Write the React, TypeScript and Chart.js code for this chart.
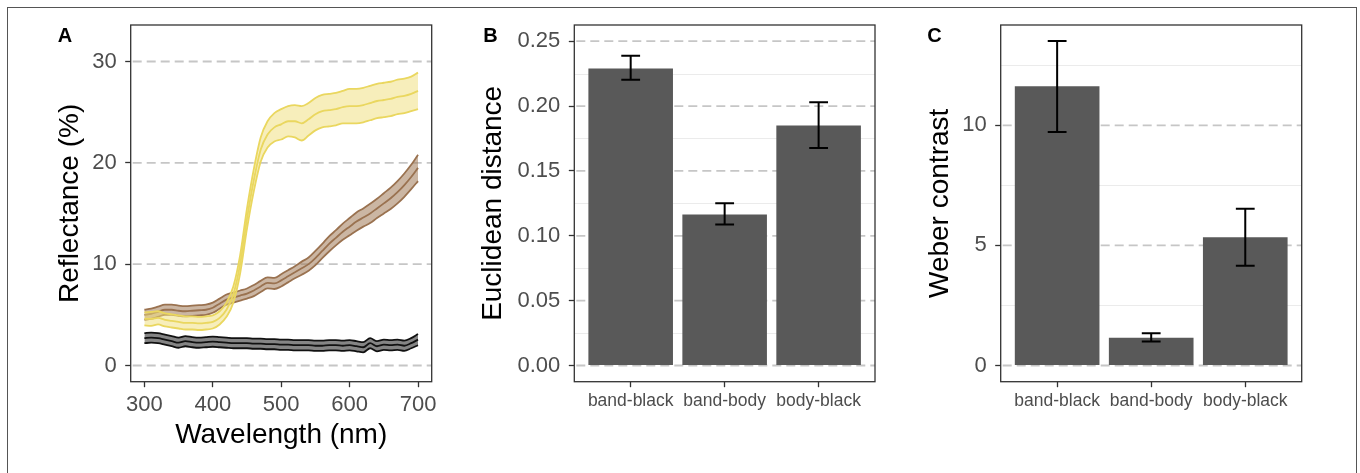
import React, { useEffect, useRef } from "react";
import { Chart, registerables } from "chart.js";
Chart.register(...registerables);

// ---------- Panel A data: reflectance spectra (mean and ribbon bounds) ----------
const WAVELENGTHS = [300, 310, 320, 330, 340, 350, 360, 370, 380, 390, 400, 410, 420, 430, 440, 450, 460, 470, 480, 490, 500, 510, 520, 530, 540, 550, 560, 570, 580, 590, 600, 610, 620, 630, 640, 650, 660, 670, 680, 690, 700];

const BAND_MEAN = [4.6, 4.6, 4.7, 4.5, 4.4, 4.3, 4.2, 4.2, 4.15, 4.2, 4.3, 4.7, 5.5, 7.0, 10.0, 14.5, 18.3, 21.3, 22.8, 23.5, 23.8, 24.1, 24.1, 23.9, 24.3, 24.8, 25.1, 25.2, 25.3, 25.5, 25.6, 25.6, 25.7, 25.9, 26.1, 26.2, 26.3, 26.5, 26.6, 26.8, 27.1];
const BAND_UPPER = [5.25, 5.3, 5.35, 5.15, 5.05, 4.95, 4.85, 4.85, 4.8, 4.85, 4.95, 5.35, 6.2, 7.8, 10.9, 15.5, 19.4, 22.5, 24.1, 24.9, 25.3, 25.6, 25.7, 25.6, 25.9, 26.4, 26.7, 26.8, 26.9, 27.1, 27.3, 27.3, 27.4, 27.6, 27.8, 27.9, 28.0, 28.2, 28.3, 28.5, 28.9];
const BAND_LOWER = [3.95, 3.9, 4.05, 3.85, 3.75, 3.65, 3.55, 3.55, 3.5, 3.55, 3.65, 4.05, 4.8, 6.2, 9.1, 13.5, 17.2, 20.1, 21.5, 22.1, 22.3, 22.6, 22.5, 22.2, 22.7, 23.2, 23.5, 23.6, 23.7, 23.9, 23.9, 23.9, 24.0, 24.2, 24.4, 24.5, 24.6, 24.8, 24.9, 25.1, 25.3];

const BODY_MEAN = [5.0, 5.1, 5.3, 5.5, 5.5, 5.4, 5.35, 5.4, 5.45, 5.5, 5.7, 6.1, 6.5, 6.7, 6.9, 7.1, 7.4, 7.8, 8.15, 8.1, 8.4, 8.8, 9.2, 9.6, 10.0, 10.6, 11.3, 12.0, 12.6, 13.2, 13.7, 14.2, 14.6, 15.0, 15.5, 16.0, 16.5, 17.1, 17.8, 18.6, 19.5];
const BODY_UPPER = [5.5, 5.6, 5.8, 6.0, 6.0, 5.9, 5.85, 5.9, 5.95, 6.0, 6.2, 6.6, 7.0, 7.2, 7.4, 7.6, 7.95, 8.35, 8.7, 8.65, 9.0, 9.4, 9.8, 10.25, 10.65, 11.3, 12.0, 12.75, 13.35, 14.0, 14.55, 15.1, 15.5, 15.95, 16.45, 17.0, 17.55, 18.2, 18.95, 19.8, 20.8];
const BODY_LOWER = [4.5, 4.6, 4.8, 5.0, 5.0, 4.9, 4.85, 4.9, 4.95, 5.0, 5.2, 5.6, 6.0, 6.2, 6.4, 6.6, 6.85, 7.25, 7.6, 7.55, 7.8, 8.2, 8.6, 8.95, 9.35, 9.9, 10.6, 11.25, 11.85, 12.4, 12.85, 13.3, 13.7, 14.05, 14.55, 15.0, 15.45, 16.0, 16.65, 17.4, 18.2];

const BLACK_MEAN = [2.7, 2.75, 2.7, 2.55, 2.4, 2.25, 2.4, 2.3, 2.25, 2.3, 2.35, 2.3, 2.25, 2.2, 2.2, 2.2, 2.15, 2.15, 2.1, 2.1, 2.05, 2.05, 2.0, 2.0, 2.0, 1.95, 1.95, 2.0, 2.0, 1.95, 2.0, 1.9, 1.8, 2.2, 1.9, 2.05, 2.0, 2.05, 1.95, 2.2, 2.55];
const BLACK_UPPER = [3.2, 3.25, 3.2, 3.05, 2.9, 2.75, 2.9, 2.8, 2.75, 2.8, 2.85, 2.8, 2.75, 2.7, 2.7, 2.7, 2.65, 2.65, 2.6, 2.6, 2.55, 2.55, 2.5, 2.5, 2.5, 2.45, 2.45, 2.5, 2.5, 2.45, 2.5, 2.4, 2.3, 2.7, 2.4, 2.55, 2.5, 2.55, 2.45, 2.7, 3.1];
const BLACK_LOWER = [2.2, 2.25, 2.2, 2.05, 1.9, 1.75, 1.9, 1.8, 1.75, 1.8, 1.85, 1.8, 1.75, 1.7, 1.7, 1.7, 1.65, 1.65, 1.6, 1.6, 1.55, 1.55, 1.5, 1.5, 1.5, 1.45, 1.45, 1.5, 1.5, 1.45, 1.5, 1.4, 1.3, 1.7, 1.4, 1.55, 1.5, 1.55, 1.45, 1.7, 2.0];

const REFL_TICKS = [0, 10, 20, 30];
const WL_TICKS = [300, 400, 500, 600, 700];

// ---------- Panels B and C data ----------
const PAIRS = ["band-black", "band-body", "body-black"];
const PAIR_POS = [1, 2, 3];

const EUCLID_MEAN = [0.229, 0.1165, 0.185];
const EUCLID_LOW = [0.2203, 0.1086, 0.1677];
const EUCLID_HIGH = [0.2388, 0.125, 0.2029];
const EUCLID_TICKS = [0, 0.05, 0.1, 0.15, 0.2, 0.25];
const EUCLID_MINOR = [0.025, 0.075, 0.125, 0.175, 0.225];

const WEBER_MEAN = [11.62, 1.15, 5.34];
const WEBER_LOW = [9.72, 1.0, 4.15];
const WEBER_HIGH = [13.51, 1.34, 6.52];
const WEBER_TICKS = [0, 5, 10];
const WEBER_MINOR = [2.5, 7.5, 12.5];

// ---------- styling ----------
const FONT = "'Liberation Sans', Arial, Helvetica, sans-serif";
const TICK_TEXT = "#4d4d4d";
const AXIS_DARK = "#333333";

type PanelOpts = {
  id: string;
  label: string;
  labelX: number;
  labelY: number;
  major: number[];
  minor: number[];
  errLow?: number[];
  errHigh?: number[];
  errX?: number[];
};

function panelPlugin(o: PanelOpts) {
  return {
    id: o.id,
    beforeDatasetsDraw(chart: any) {
      const { ctx, chartArea: a, scales } = chart;
      const y = scales.y;
      ctx.save();
      ctx.beginPath();
      ctx.rect(a.left, a.top, a.right - a.left, a.bottom - a.top);
      ctx.clip();
      ctx.lineWidth = 1;
      ctx.strokeStyle = "#ebebeb";
      ctx.setLineDash([]);
      for (const v of o.minor) {
        const p = Math.round(y.getPixelForValue(v)) + 0.5;
        ctx.beginPath();
        ctx.moveTo(a.left, p);
        ctx.lineTo(a.right, p);
        ctx.stroke();
      }
      ctx.lineWidth = 1.8;
      ctx.strokeStyle = "#c6c6c6";
      ctx.setLineDash([9, 5]);
      for (const v of o.major) {
        const p = y.getPixelForValue(v);
        ctx.beginPath();
        ctx.moveTo(a.left + 2, p);
        ctx.lineTo(a.right, p);
        ctx.stroke();
      }
      ctx.restore();
    },
    afterDatasetsDraw(chart: any) {
      const { ctx, chartArea: a, scales } = chart;
      ctx.save();
      if (o.errLow && o.errHigh && o.errX) {
        const x = scales.x;
        const y = scales.y;
        ctx.strokeStyle = "#000";
        ctx.lineWidth = 2;
        ctx.setLineDash([]);
        o.errX.forEach((xv, i) => {
          const cx = x.getPixelForValue(xv);
          const l = x.getPixelForValue(xv - 0.1);
          const r = x.getPixelForValue(xv + 0.1);
          const lo = y.getPixelForValue(o.errLow![i]);
          const hi = y.getPixelForValue(o.errHigh![i]);
          ctx.beginPath();
          ctx.moveTo(cx, lo);
          ctx.lineTo(cx, hi);
          ctx.moveTo(l, lo);
          ctx.lineTo(r, lo);
          ctx.moveTo(l, hi);
          ctx.lineTo(r, hi);
          ctx.stroke();
        });
      }
      ctx.strokeStyle = AXIS_DARK;
      ctx.lineWidth = 1.3;
      ctx.strokeRect(a.left, a.top, a.right - a.left, a.bottom - a.top);
      ctx.fillStyle = "#000";
      ctx.font = `bold 20px ${FONT}`;
      ctx.textAlign = "center";
      ctx.textBaseline = "alphabetic";
      ctx.fillText(o.label, o.labelX, o.labelY);
      ctx.restore();
    },
  };
}

function fixedTicks(values: number[]) {
  return (scale: any) => {
    scale.ticks = values.map((v) => ({ value: v }));
  };
}

function fixWidth(w: number) {
  return (s: any) => {
    s.width = w;
    s.paddingTop = 0;
    s.paddingBottom = 0;
  };
}

function fixHeight(h: number) {
  return (s: any) => {
    s.height = h;
    s.paddingLeft = 0;
    s.paddingRight = 0;
  };
}

function tickGrid() {
  return {
    drawOnChartArea: false,
    drawTicks: true,
    tickLength: 5.5,
    tickColor: AXIS_DARK,
    tickWidth: 1.3,
    offset: false,
  };
}

function buildSpectra(canvas: HTMLCanvasElement) {
  const pts = (arr: number[]) => WAVELENGTHS.map((w, i) => ({ x: w, y: arr[i] }));
  const series = [
    { name: "black", up: BLACK_UPPER, mean: BLACK_MEAN, low: BLACK_LOWER, line: "#111111", fill: "rgba(120,120,120,0.9)" },
    { name: "body", up: BODY_UPPER, mean: BODY_MEAN, low: BODY_LOWER, line: "#9a7250", fill: "rgba(160,122,88,0.55)" },
    { name: "band", up: BAND_UPPER, mean: BAND_MEAN, low: BAND_LOWER, line: "#ead75f", fill: "rgba(240,222,120,0.5)" },
  ];
  const datasets: any[] = [];
  const total = series.length * 3;
  let seq = 0;
  series.forEach((s) => {
    const common = { borderColor: s.line, borderWidth: 1.8, pointRadius: 0, cubicInterpolationMode: "monotone" };
    const upper = { ...common, label: s.name + " upper", data: pts(s.up), fill: false, order: 0 };
    const lower = { ...common, label: s.name + " lower", data: pts(s.low), fill: "-1", backgroundColor: s.fill, order: 0 };
    const mean = { ...common, label: s.name + " mean", data: pts(s.mean), fill: false, order: 0 };
    lower.order = total - seq++;
    upper.order = total - seq++;
    mean.order = total - seq++;
    datasets.push(upper, lower, mean);
  });

  return new Chart(canvas, {
    type: "line",
    data: { datasets },
    options: {
      responsive: false,
      animation: false,
      layout: { padding: { left: 0, top: 17, right: 23.3, bottom: 0 } },
      plugins: { legend: { display: false }, tooltip: { enabled: false } },
      scales: {
        x: {
          type: "linear",
          min: 280,
          max: 720,
          afterBuildTicks: fixedTicks(WL_TICKS),
          afterFit: fixHeight(83.3),
          ticks: { color: TICK_TEXT, font: { family: FONT, size: 22 }, padding: 4.6, maxRotation: 0, autoSkip: false },
          grid: tickGrid(),
          border: { display: false },
          title: { display: true, text: "Wavelength (nm)", color: "#000", font: { family: FONT, size: 28 }, padding: { top: 0, bottom: 13.2 } },
        },
        y: {
          type: "linear",
          min: -1.6,
          max: 33.6,
          afterBuildTicks: fixedTicks(REFL_TICKS),
          afterFit: fixWidth(122.7),
          ticks: { color: TICK_TEXT, font: { family: FONT, size: 22 }, padding: 8.5 },
          grid: tickGrid(),
          border: { display: false },
          title: { display: true, text: "Reflectance (%)", color: "#000", font: { family: FONT, size: 28 }, padding: { top: 45.2, bottom: 0 } },
        },
      },
    } as any,
    plugins: [panelPlugin({ id: "pA", label: "A", labelX: 57, labelY: 33.7, major: REFL_TICKS, minor: [] })],
  });
}

function buildBars(
  canvas: HTMLCanvasElement,
  cfg: {
    id: string; label: string; labelX: number; means: number[]; lows: number[]; highs: number[];
    ymin: number; ymax: number; ticks: number[]; minor: number[]; decimals: number;
    yWidth: number; padRight: number; title: string; titlePad: number;
  }
) {
  return new Chart(canvas, {
    type: "bar",
    data: {
      datasets: [
        {
          label: cfg.title,
          data: PAIR_POS.map((x, i) => ({ x, y: cfg.means[i] })),
          backgroundColor: "#595959",
          borderWidth: 0,
          barPercentage: 0.9,
          categoryPercentage: 1,
        },
      ],
    },
    options: {
      responsive: false,
      animation: false,
      layout: { padding: { left: 0, top: 17, right: cfg.padRight, bottom: 0 } },
      plugins: { legend: { display: false }, tooltip: { enabled: false } },
      scales: {
        x: {
          type: "linear",
          min: 0.4,
          max: 3.6,
          offset: false,
          afterBuildTicks: fixedTicks(PAIR_POS),
          afterFit: fixHeight(83.3),
          ticks: {
            color: TICK_TEXT,
            font: { family: FONT, size: 17.5 },
            padding: 3.3,
            maxRotation: 0,
            autoSkip: false,
            callback: (v: any) => PAIRS[Math.round(Number(v)) - 1],
          },
          grid: tickGrid(),
          border: { display: false },
        },
        y: {
          type: "linear",
          min: cfg.ymin,
          max: cfg.ymax,
          afterBuildTicks: fixedTicks(cfg.ticks),
          afterFit: fixWidth(cfg.yWidth),
          ticks: {
            color: TICK_TEXT,
            font: { family: FONT, size: 22 },
            padding: 8.5,
            callback: (v: any) => Number(v).toFixed(cfg.decimals),
          },
          grid: tickGrid(),
          border: { display: false },
          title: { display: true, text: cfg.title, color: "#000", font: { family: FONT, size: 28 }, padding: { top: cfg.titlePad, bottom: 0 } },
        },
      },
    } as any,
    plugins: [
      panelPlugin({
        id: cfg.id, label: cfg.label, labelX: cfg.labelX, labelY: 33.7,
        major: cfg.ticks, minor: cfg.minor, errLow: cfg.lows, errHigh: cfg.highs, errX: PAIR_POS,
      }),
    ],
  });
}

export default function App() {
  const aRef = useRef<HTMLCanvasElement>(null);
  const bRef = useRef<HTMLCanvasElement>(null);
  const cRef = useRef<HTMLCanvasElement>(null);

  useEffect(() => {
    const charts: Chart[] = [];
    if (aRef.current) charts.push(buildSpectra(aRef.current));
    if (bRef.current)
      charts.push(
        buildBars(bRef.current, {
          id: "pB", label: "B", labelX: 30.5, means: EUCLID_MEAN, lows: EUCLID_LOW, highs: EUCLID_HIGH,
          ymin: -0.0125, ymax: 0.2625, ticks: EUCLID_TICKS, minor: EUCLID_MINOR, decimals: 2,
          yWidth: 114.3, padRight: 25, title: "Euclidean distance", titlePad: 16.5,
        })
      );
    if (cRef.current)
      charts.push(
        buildBars(cRef.current, {
          id: "pC", label: "C", labelX: 29.5, means: WEBER_MEAN, lows: WEBER_LOW, highs: WEBER_HIGH,
          ymin: -0.675, ymax: 14.175, ticks: WEBER_TICKS, minor: WEBER_MINOR, decimals: 0,
          yWidth: 95.7, padRight: 43.3, title: "Weber contrast", titlePad: 18.2,
        })
      );
    return () => charts.forEach((c) => c.destroy());
  }, []);

  return (
    <div style={{ position: "fixed", left: 0, top: 0, width: 1360, height: 473, background: "#fff", overflow: "hidden" }}>
      <div style={{ position: "absolute", left: 7, top: 7, width: 1350, height: 500, border: "1px solid #555", boxSizing: "border-box" }} />
      <canvas ref={aRef} width={447} height={457} style={{ position: "absolute", left: 8, top: 8 }} />
      <canvas ref={bRef} width={440} height={457} style={{ position: "absolute", left: 460, top: 8 }} />
      <canvas ref={cRef} width={440} height={457} style={{ position: "absolute", left: 905, top: 8 }} />
    </div>
  );
}
